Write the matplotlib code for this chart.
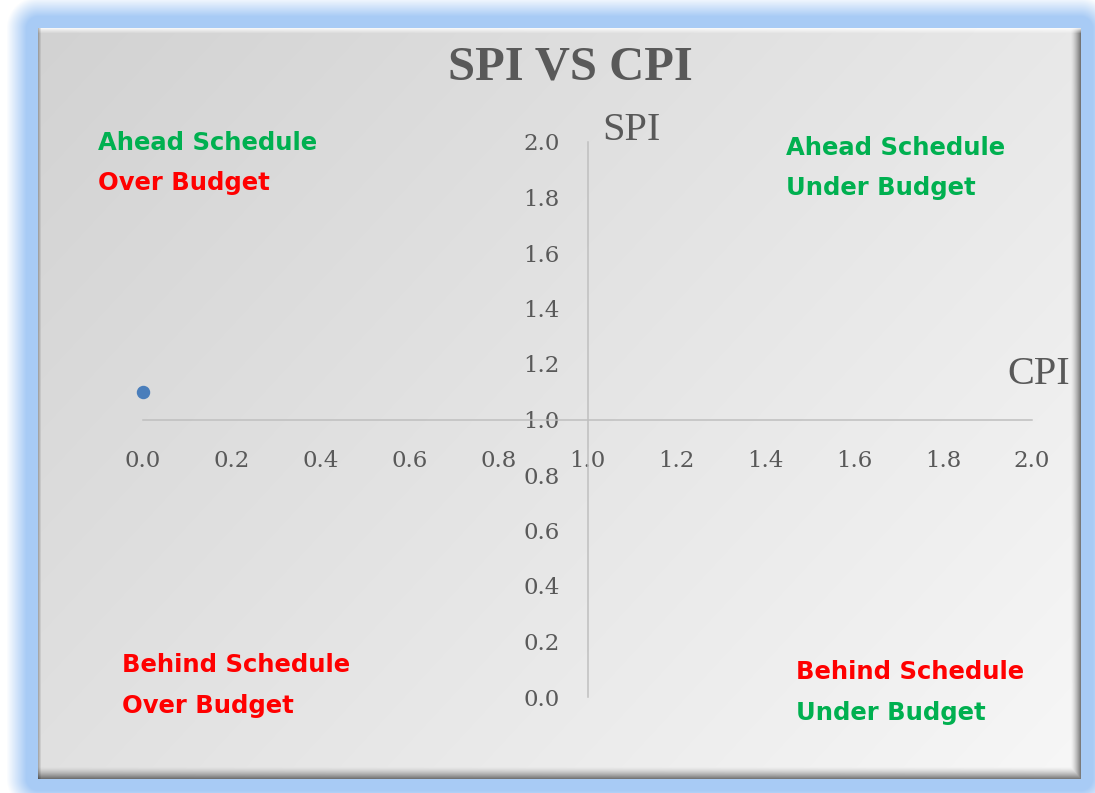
import numpy as np
import matplotlib
matplotlib.use("Agg")
import matplotlib.pyplot as plt

# data
cpi = [0.0]
spi = [1.1]
ticks = [0.0, 0.2, 0.4, 0.6, 0.8, 1.0, 1.2, 1.4, 1.6, 1.8, 2.0]
tick_labels = [f"{t:.1f}" for t in ticks]
quadrants = [
    # (left px, centre y px, text, colour)
    (98, 143, "Ahead Schedule", "#00b050"),
    (98, 183, "Over Budget", "#ff0000"),
    (786, 148, "Ahead Schedule", "#00b050"),
    (786, 188, "Under Budget", "#00b050"),
    (122, 665, "Behind Schedule", "#ff0000"),
    (122, 706, "Over Budget", "#ff0000"),
    (796, 672, "Behind Schedule", "#ff0000"),
    (796, 713, "Under Budget", "#00b050"),
]

W, H = 1095, 793
fig = plt.figure(figsize=(W / 100, H / 100), dpi=100)


def px(x, y):
    return x / W, 1 - y / H


# background: blue glow + grey gradient panel with bevel
yy, xx = np.mgrid[0:H, 0:W].astype(float)
x0, x1, y0, y1 = 38, 1080, 28, 778
dx = np.maximum(np.maximum(x0 - xx, xx - x1), 0)
dy = np.maximum(np.maximum(y0 - yy, yy - y1), 0)
d = np.hypot(dx, dy)
a = np.clip((32 - d) / 20, 0, 1)[..., None]
blue = np.array([168, 203, 245]) / 255
img = (1 - a) * 1.0 + a * blue

inside = (xx >= x0) & (xx <= x1) & (yy >= y0) & (yy <= y1)
t = ((xx - x0) / (x1 - x0) * 0.6 + (yy - y0) / (y1 - y0) * 0.4)
g = (210 + np.clip(t, 0, 1) * 37) / 255
# bevel: right/bottom darker, top lighter
rb = np.clip(1 - (x1 - xx) / 10, 0, 1)
bb = np.clip(1 - (y1 - yy) / 12, 0, 1)
g = g * (1 - 0.5 * np.maximum(rb, bb) ** 1.5)
tb = np.clip(1 - (yy - y0) / 5, 0, 1)
g = g + (1 - g) * 0.8 * tb
lb = np.clip(1 - (xx - x0) / 3, 0, 1)
g = g * (1 - 0.25 * lb)
panel = np.repeat(g[..., None], 3, axis=2)
img = np.where(inside[..., None], panel, img)

bg = fig.add_axes([0, 0, 1, 1], zorder=0)
bg.imshow(img, extent=(0, W, H, 0), aspect="auto", interpolation="bilinear")
bg.axis("off")

# main axes: x 0..2 -> px 143..1032, y 0..2 -> px 697..142
l, b = px(143, 697)
r, t_ = px(1032, 142)
ax = fig.add_axes([l, b, r - l, t_ - b], zorder=1)
ax.set_facecolor("none")
ax.set_xlim(0, 2)
ax.set_ylim(0, 2)

for s in ["top", "right"]:
    ax.spines[s].set_visible(False)
for s in ["left", "bottom"]:
    ax.spines[s].set_position(("data", 1.0))
    ax.spines[s].set_color("#bfbfbf")
    ax.spines[s].set_linewidth(1.1)

serif = ["Liberation Serif", "DejaVu Serif"]
ax.set_xticks(ticks)
ax.set_xticklabels(tick_labels, fontsize=16.5, color="#595959", family="DejaVu Serif")
ax.set_yticks(ticks)
ax.set_yticklabels(tick_labels, fontsize=16.5, color="#595959", family="DejaVu Serif")
ax.tick_params(axis="x", length=0, pad=22)
ax.tick_params(axis="y", length=0, pad=20)

ax.scatter(cpi, spi, s=75, color="#4a7ebb", zorder=3, clip_on=False)

# titles
fig.text(*px(570, 68), "SPI VS CPI", ha="center", va="center",
         fontsize=35, fontweight="bold", color="#595959", family=serif)
fig.text(*px(602, 130), "SPI", ha="left", va="center",
         fontsize=29, color="#595959", family=serif)
fig.text(*px(1007, 375), "CPI", ha="left", va="center",
         fontsize=29, color="#595959", family=serif)

for x, y, txt, c in quadrants:
    fig.text(*px(x, y), txt, ha="left", va="center", fontsize=17.5,
             fontweight="bold", color=c, family=["DejaVu Sans"])

fig.savefig("out.png", dpi=100)
